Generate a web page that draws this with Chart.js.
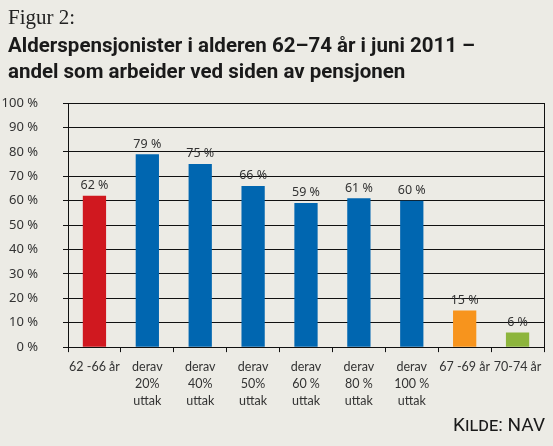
<!DOCTYPE html>
<html>
<head>
<meta charset="utf-8">
<script src="https://cdn.jsdelivr.net/npm/chart.js@4/dist/chart.umd.min.js"></script>
<style>
  html, body { margin: 0; padding: 0; background: #ecebe5; }
  #wrap { position: relative; width: 553px; height: 446px; overflow: hidden; }
  #fig { position: absolute; left: 8px; top: 5px; font: 21px "Liberation Serif", serif; color: #222; }
  #title { position: absolute; left: 8px; top: 32px; font: 700 20.5px Roboto, sans-serif; line-height: 26px; color: #1a1a1a; white-space: nowrap; }
  #src { position: absolute; right: 8px; top: 413px; font: 19px Roboto, sans-serif; font-variant: small-caps; color: #1a1a1a; }
  canvas { position: absolute; left: 0; top: 0; }
</style>
</head>
<body>
<div id="wrap">
  <canvas id="chart" width="553" height="446"></canvas>
  <div id="fig">Figur 2:</div>
  <div id="title">Alderspensjonister i alderen 62–74 år i juni 2011 –<br>andel som arbeider ved siden av pensjonen</div>
  <div id="src">Kilde: NAV</div>
</div>
<script>
// data
const categories = [
  ['62 -66 år'],
  ['derav', '20%', 'uttak'],
  ['derav', '40%', 'uttak'],
  ['derav', '50%', 'uttak'],
  ['derav', '60 %', 'uttak'],
  ['derav', '80 %', 'uttak'],
  ['derav', '100 %', 'uttak'],
  ['67 -69 år'],
  ['70-74 år']
];
const shares = [62, 79, 75, 66, 59, 61, 60, 15, 6];
const barColors = ['#d0181f', '#0066b0', '#0066b0', '#0066b0', '#0066b0', '#0066b0', '#0066b0', '#f7941d', '#8db53c'];
const yTicks = [0, 10, 20, 30, 40, 50, 60, 70, 80, 90, 100];

const lineCol = '#111';
const textCol = '#333';

// value labels above bars
const valueLabels = {
  id: 'valueLabels',
  afterDatasetsDraw(chart) {
    const ctx = chart.ctx;
    const meta = chart.getDatasetMeta(0);
    ctx.save();
    ctx.font = '12.5px "Noto Sans", sans-serif';
    ctx.fillStyle = textCol;
    ctx.textAlign = 'center';
    ctx.textBaseline = 'bottom';
    meta.data.forEach((bar, i) => {
      ctx.fillText(shares[i] + ' %', bar.x, bar.y - 4);
    });
    ctx.restore();
  }
};

new Chart(document.getElementById('chart'), {
  type: 'bar',
  data: {
    labels: categories,
    datasets: [{
      data: shares,
      backgroundColor: barColors,
      borderWidth: 0,
      barPercentage: 0.44,
      categoryPercentage: 1
    }]
  },
  options: {
    responsive: false,
    animation: false,
    layout: { padding: { top: 103, right: 9, bottom: 30, left: 0 } },
    plugins: { legend: { display: false }, tooltip: { enabled: false } },
    scales: {
      x: {
        offset: true,
        grid: { offset: true, drawOnChartArea: false, drawTicks: true, tickLength: 5, color: lineCol },
        border: { display: true, color: lineCol },
        ticks: { color: textCol, font: { family: 'Lato, sans-serif', size: 12.5, lineHeight: 1.33 }, padding: 7, maxRotation: 0, autoSkip: false }
      },
      y: {
        min: 0,
        max: 100,
        afterBuildTicks(scale) { scale.ticks = yTicks.map(v => ({ value: v })); },
        afterFit(scale) { scale.width = 68; },
        grid: { color: lineCol, tickLength: 5, lineWidth: 1 },
        border: { display: true, color: lineCol },
        ticks: {
          color: textCol,
          font: { family: '"Noto Sans", sans-serif', size: 13 },
          padding: 25,
          callback: v => v + ' %'
        }
      },
      y2: {
        position: 'right',
        min: 0,
        max: 100,
        afterFit(scale) { scale.width = 0; },
        grid: { display: false },
        border: { display: true, color: lineCol },
        ticks: { display: false }
      }
    }
  },
  plugins: [valueLabels]
});
</script>
</body>
</html>
